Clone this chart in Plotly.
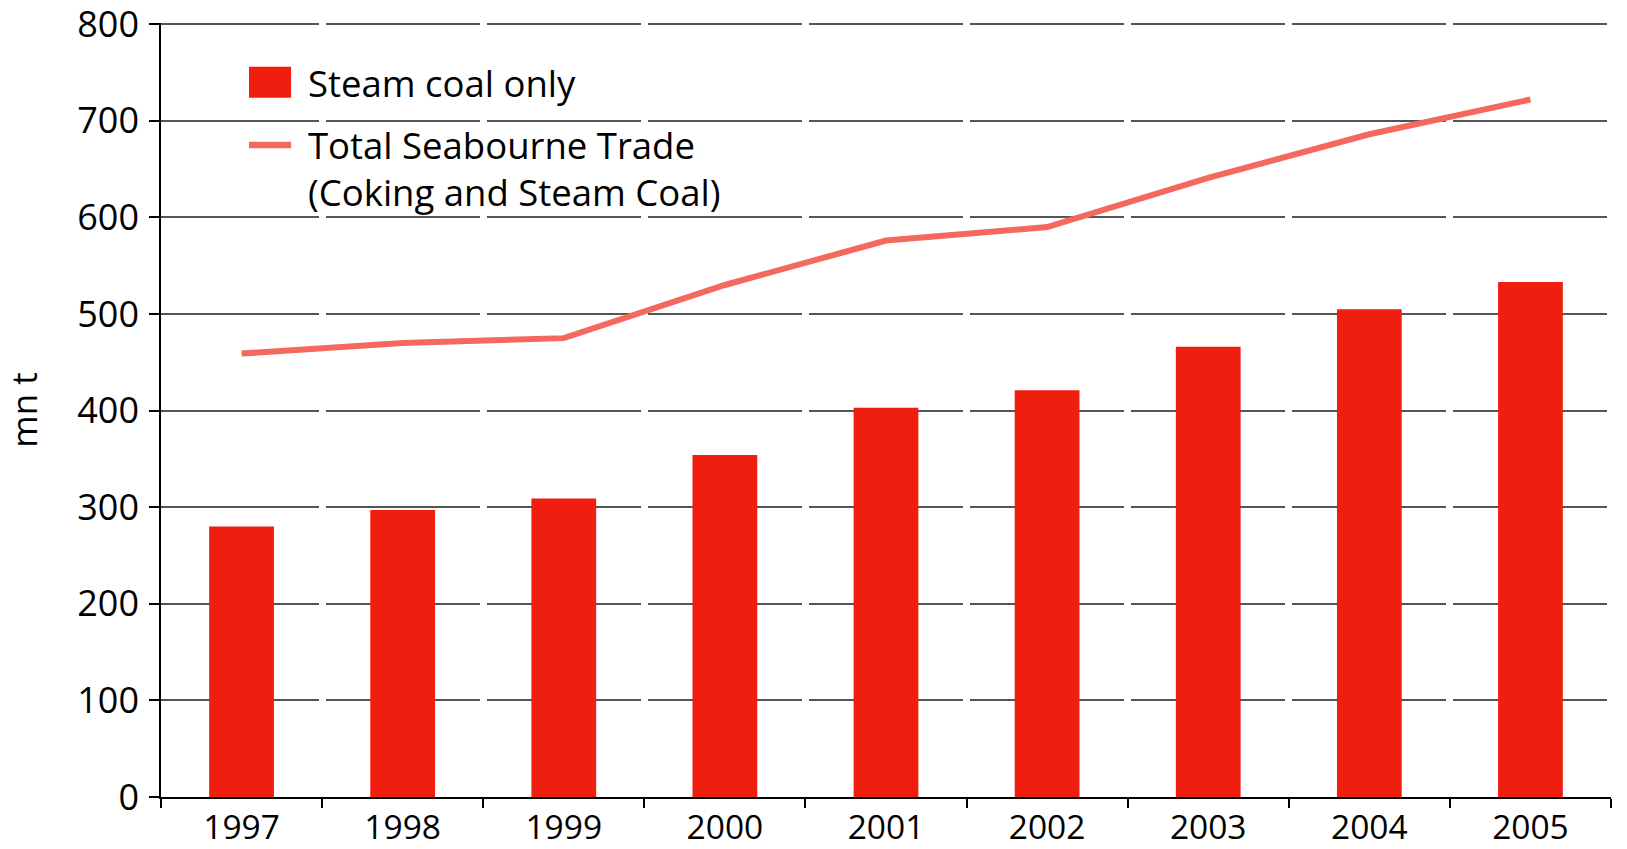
import plotly.graph_objects as go

years = ["1997", "1998", "1999", "2000", "2001", "2002", "2003", "2004", "2005"]
steam_coal = [280, 297, 309, 354, 403, 421, 466, 505, 533]
total_trade = [459, 470, 475, 530, 576, 590, 641, 686, 722]
y_ticks = [0, 100, 200, 300, 400, 500, 600, 700, 800]
name_bar = "Steam coal only"
name_line = "Total Seabourne Trade<br>(Coking and Steam Coal)"

FONT = "Open Sans"
BAR_COLOR = "#F01E0E"
LINE_COLOR = "#F4685D"

fig = go.Figure()
fig.add_trace(go.Bar(
    x=years, y=steam_coal, name=name_bar,
    marker=dict(color=BAR_COLOR, line=dict(width=0)),
))
fig.add_trace(go.Scatter(
    x=years, y=total_trade, name=name_line,
    mode="lines", line=dict(color=LINE_COLOR, width=6),
))

# custom legend (large swatches as in the original)
legend_font = dict(family=FONT, size=36.5, color="black")
fig.add_shape(type="rect", xref="paper", yref="paper",
              x0=0.0607, x1=0.0897, y0=0.9034, y1=0.9435,
              fillcolor=BAR_COLOR, line=dict(width=0))
fig.add_shape(type="line", xref="paper", yref="paper",
              x0=0.0607, x1=0.0897, y0=0.8425, y1=0.8425,
              line=dict(color=LINE_COLOR, width=6.5))
fig.add_annotation(text=name_bar, xref="paper", yref="paper", x=0.1000, y=0.9225,
                   xanchor="left", yanchor="middle", showarrow=False, font=legend_font)
fig.add_annotation(text=name_line, xref="paper", yref="paper", x=0.1000, y=0.8115,
                   xanchor="left", yanchor="middle", align="left", showarrow=False,
                   font=legend_font)

fig.update_layout(
    width=1627, height=849,
    margin=dict(l=161, r=16, t=23, b=52, autoexpand=False),
    paper_bgcolor="white", plot_bgcolor="white",
    font=dict(family=FONT, size=34, color="black"),
    bargap=0.598,
    showlegend=False,
)
grid_dash = "157.6px,7px" + ",154.1px,7px" * 9
fig.update_xaxes(
    type="category", tickson="boundaries", ticks="outside", ticklen=9,
    tickcolor="black", tickwidth=1.5, showline=True, linecolor="black", linewidth=1.5,
    showgrid=False, tickfont=dict(size=33.5), ticklabelstandoff=0,
    ticklabeloverflow="allow", automargin=False,
)
fig.update_yaxes(
    range=[0, 801.2], tickvals=y_ticks, ticks="outside", ticklen=10, tickcolor="black",
    tickwidth=1.5, showline=True, linecolor="black", linewidth=1.5,
    showgrid=True, gridcolor="#555555", gridwidth=1.5, griddash=grid_dash,
    zeroline=False, tickfont=dict(size=36), ticklabelstandoff=3,
    ticklabeloverflow="allow", automargin=False,
    title=dict(text="mn t", font=dict(size=35), standoff=36),
)

fig.write_html(
    "out.html",
    config={"displayModeBar": False},
    post_script="document.body.style.margin='0';document.body.style.overflow='hidden';",
)
